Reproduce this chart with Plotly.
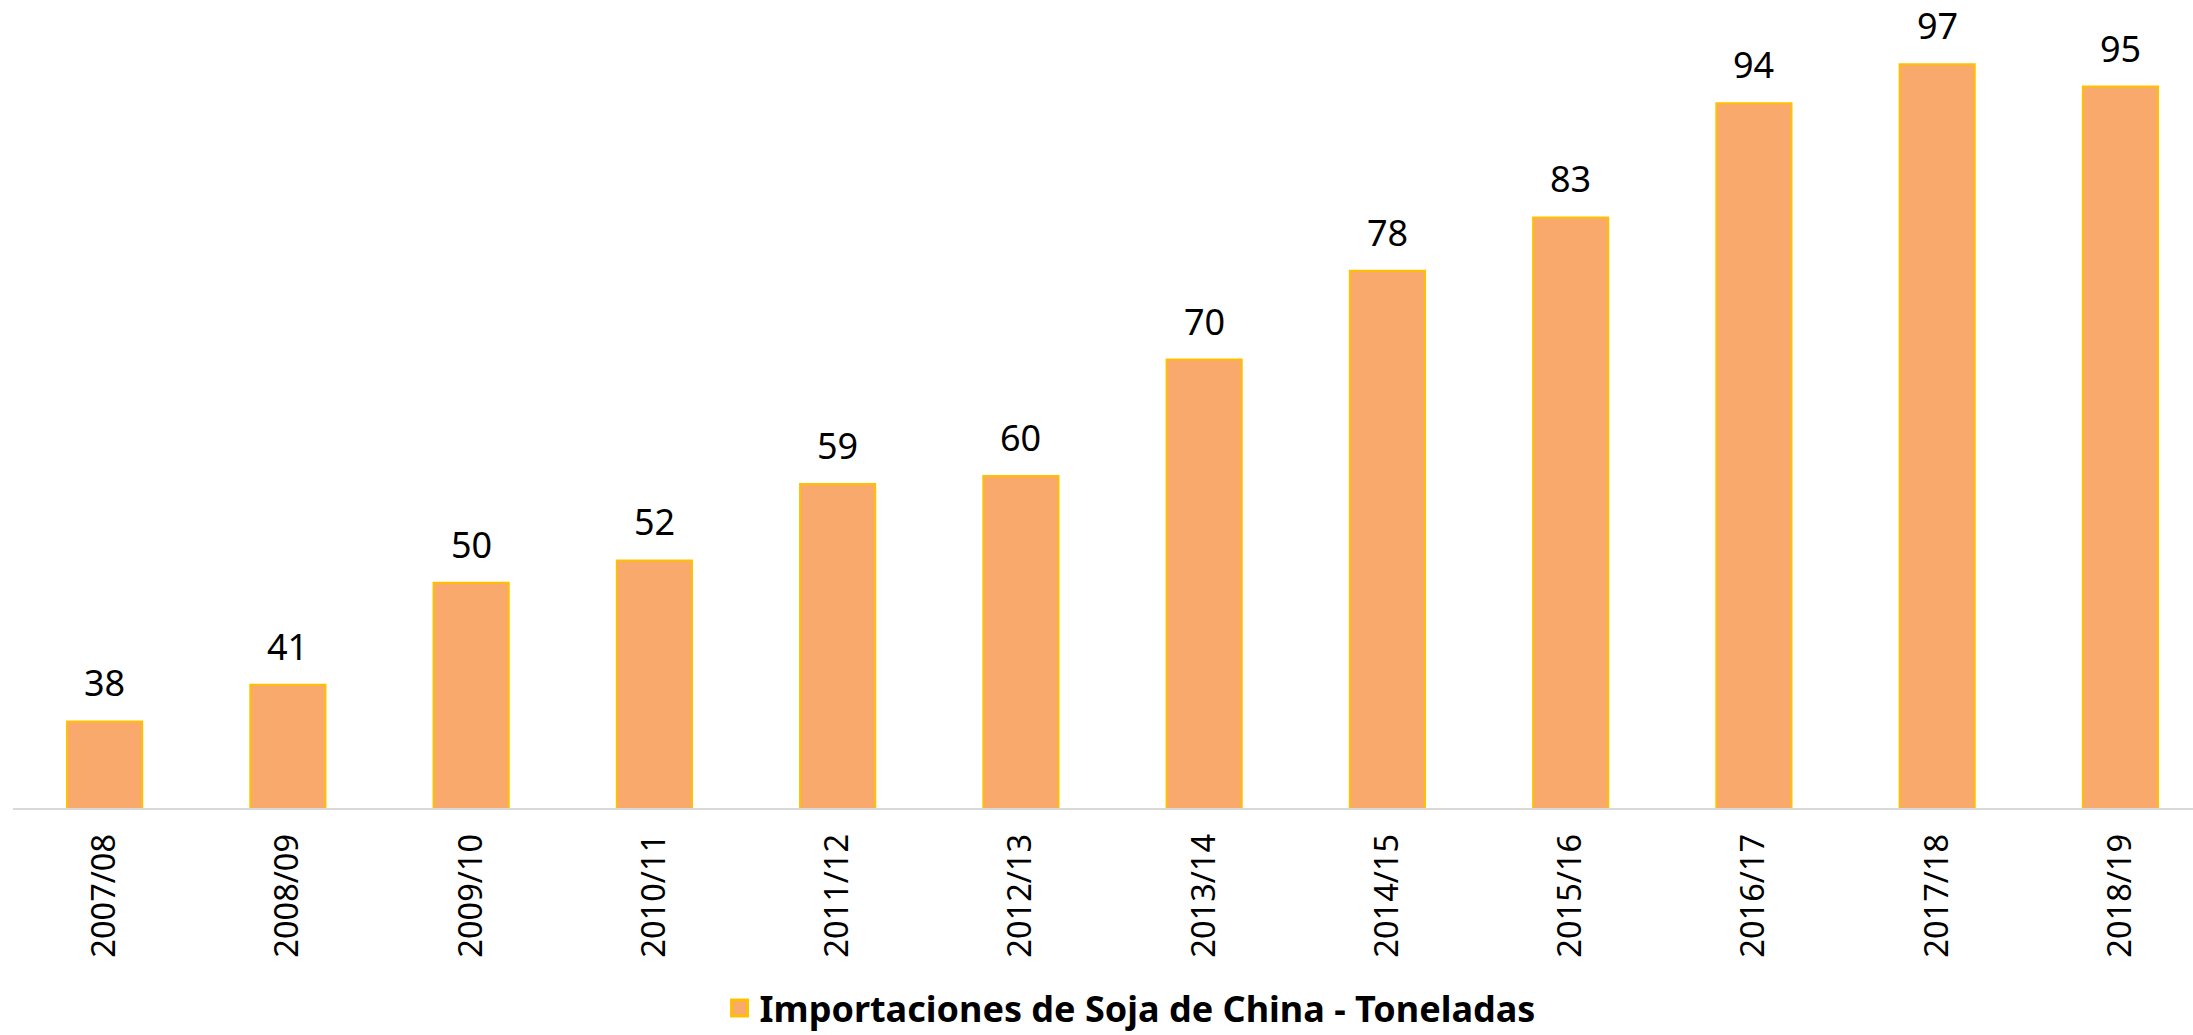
import plotly.graph_objects as go

categories = ["2007/08", "2008/09", "2009/10", "2010/11", "2011/12", "2012/13",
              "2013/14", "2014/15", "2015/16", "2016/17", "2017/18", "2018/19"]
imports = [37.8, 41.1, 50.3, 52.3, 59.2, 59.9, 70.4, 78.4, 83.2, 93.5, 97.0, 95.0]
series_name = "Importaciones de Soja de China - Toneladas"

FONT = "Noto Sans"
FILL = "#F9A96B"
EDGE = "#FFC000"
W, H = 2193, 1035
ML, MR, MT, MB = 13, 0, 0, 227
PLOT_H = H - MT - MB

fig = go.Figure()
fig.add_trace(go.Bar(
    x=categories, y=imports, name=series_name,
    marker=dict(color=FILL, line=dict(color=EDGE, width=2)),
    width=0.41, showlegend=False,
))
# legend entry (same series) with an Excel-like larger swatch
fig.add_trace(go.Scatter(
    x=[None], y=[None], mode="markers", name=series_name,
    marker=dict(symbol="square", size=20, color=FILL, line=dict(color=EDGE, width=3)),
    showlegend=True,
))

for c, v in zip(categories, imports):
    fig.add_annotation(x=c, y=v, text=str(int(v + 0.5)), showarrow=False,
                       yanchor="bottom", yshift=12,
                       font=dict(family=FONT, size=36, color="#000000"))

fig.update_layout(
    width=W, height=H,
    margin=dict(l=ML, r=MR, t=MT, b=MB, autoexpand=False),
    paper_bgcolor="white", plot_bgcolor="white",
    font=dict(family=FONT, color="#000000"),
    showlegend=True,
    legend=dict(orientation="h", xref="paper", x=0.5124, xanchor="center",
                yref="container", y=(H - 1008) / H, yanchor="middle",
                font=dict(family=FONT, size=36, color="#000000", weight="bold"),
                itemsizing="trace"),
    xaxis=dict(type="category", range=[-0.5, 11.396], showgrid=False,
               showline=True, linecolor="#D9D9D9", linewidth=2,
               tickangle=-90, tickfont=dict(family=FONT, size=32.5, color="#000000"),
               ticks="", ticklabelstandoff=11, zeroline=False, automargin=False),
    yaxis=dict(range=[30, 30 + PLOT_H / 11.1], visible=False, showgrid=False,
               zeroline=False, automargin=False),
)

fig.write_html("out.html",
               config={"displayModeBar": False},
               post_script="document.documentElement.style.margin='0';"
                           "document.body.style.margin='0';"
                           "document.body.style.overflow='hidden';")
